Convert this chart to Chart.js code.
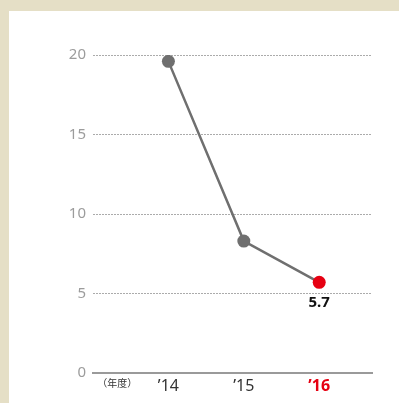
<!DOCTYPE html>
<html>
<head>
<meta charset="utf-8">
<script src="https://cdn.jsdelivr.net/npm/chart.js@4.4.0/dist/chart.umd.min.js"></script>
<style>
  html, body { margin: 0; padding: 0; }
  body { width: 399px; height: 403px; background: #e5dfc6; position: relative; overflow: hidden; }
  #panel { position: absolute; left: 9px; top: 11px; right: 0; bottom: 0; background: #fff; }
  #wrap { position: absolute; left: 0; top: 0; width: 399px; height: 403px; }
</style>
</head>
<body>
<div id="panel"></div>
<div id="wrap"><canvas id="rateChart" width="399" height="403"></canvas></div>
<script>
// 年度ごとの推移
const years = ['\u201914', '\u201915', '\u201916'];
const values = [19.6, 8.3, 5.7];
const yTicks = [0, 5, 10, 15, 20];
const unitLabel = '（年度）';

const grey = '#6f6f6f';
const red = '#e60012';

// 最終年度の値を点の下に表示
const valueLabel = {
    id: 'valueLabel',
    afterDatasetsDraw(chart) {
        const ctx = chart.ctx;
        const meta = chart.getDatasetMeta(0);
        const last = meta.data[meta.data.length - 1];
        ctx.save();
        ctx.font = 'bold 15px "Noto Sans", sans-serif';
        ctx.fillStyle = '#111';
        ctx.textAlign = 'center';
        ctx.textBaseline = 'middle';
        ctx.fillText(values[values.length - 1].toFixed(1), last.x, last.y + 20);
        ctx.restore();
    }
};

const ctx = document.getElementById('rateChart').getContext('2d');
const rateChart = new Chart(ctx, {
    type: 'line',
    data: {
        datasets: [{
            data: values.map((v, i) => ({ x: i, y: v })),
            borderColor: grey,
            borderWidth: 2.5,
            pointRadius: 6.5,
            pointHoverRadius: 6.5,
            pointBorderWidth: 0,
            pointBackgroundColor: values.map((v, i) => i === values.length - 1 ? red : grey),
            tension: 0
        }]
    },
    options: {
        responsive: false,
        animation: false,
        layout: { padding: { top: 55, right: 27, bottom: 0, left: 0 } },
        plugins: {
            legend: { display: false },
            tooltip: { enabled: false }
        },
        scales: {
            x: {
                type: 'linear',
                min: -1,
                max: 2.7,
                afterFit: (scale) => { scale.height = 30; },
                afterBuildTicks: (scale) => {
                    scale.ticks = [{ value: -0.68 }].concat(years.map((y, i) => ({ value: i })));
                },
                grid: { display: false, drawTicks: false },
                border: { display: true, color: '#9a9a9a', width: 2 },
                ticks: {
                    padding: 4,
                    maxRotation: 0,
                    autoSkip: false,
                    callback: (v) => v < 0 ? unitLabel : years[v],
                    color: (c) => c.index === years.length ? red : '#333',
                    font: (c) => {
                        if (c.index === 0) return { size: 10, family: '"Noto Sans CJK JP", sans-serif' };
                        if (c.index === years.length) return { size: 16, weight: 'bold', family: '"Noto Sans", sans-serif' };
                        return { size: 16, family: '"Noto Sans", sans-serif' };
                    }
                }
            },
            y: {
                min: 0,
                max: 20,
                afterFit: (scale) => { scale.width = 93; },
                afterBuildTicks: (scale) => {
                    scale.ticks = yTicks.map(v => ({ value: v }));
                },
                grid: {
                    drawTicks: false,
                    color: (c) => c.tick && c.tick.value === 0 ? 'rgba(0,0,0,0)' : '#ababab',
                    lineWidth: 1
                },
                border: { display: false, dash: [2, 1] },
                ticks: {
                    padding: 7,
                    color: '#9c9c9c',
                    font: { size: 15, family: '"Noto Sans", sans-serif' }
                }
            }
        }
    },
    plugins: [valueLabel]
});
</script>
</body>
</html>
